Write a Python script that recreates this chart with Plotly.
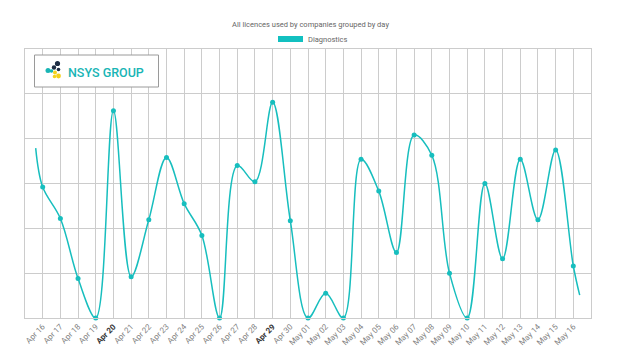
import plotly.graph_objects as go
import pandas as pd

# ---- data ----
dates = pd.date_range("2021-04-16", "2021-05-16", freq="D")
values = [29.2, 22.2, 8.8, 0, 46.2, 9.2, 21.9, 35.8, 25.5, 18.4, 0, 34.0, 30.4, 48.1, 21.7,
          0, 5.5, 0, 35.4, 28.3, 14.6, 40.8, 36.3, 10.0, 0, 30.0, 13.2, 35.4, 21.9, 37.5, 11.6]
lead_in_date, lead_in_value = pd.Timestamp("2021-04-15 14:30"), 37.9
lead_out_date, lead_out_value = pd.Timestamp("2021-05-16 08:40"), 5.1
bold_days = ["Apr 20", "Apr 29"]
series_name = "Diagnostics"
title_text = "All licences used by companies grouped by day"

tick_labels = [d.strftime("%b %d") for d in dates]
tick_text = [f'<span style="color:#333"><b>{t}</b></span>' if t in bold_days else t for t in tick_labels]

TEAL = "#17bebe"
GRID = "#cccccc"
W, H = 621, 358
L, R, T, B = 25, 30, 49, 40
PW, PH = W - L - R, H - T - B


def px(x):
    return (x - L) / PW


def py(y):
    return (H - B - y) / PH


line_x = [lead_in_date] + list(dates) + [lead_out_date]
line_y = [lead_in_value] + values + [lead_out_value]

fig = go.Figure()
fig.add_trace(go.Scatter(x=line_x, y=line_y, mode="lines",
                         line=dict(color=TEAL, width=1.5, shape="spline", smoothing=1.0),
                         showlegend=False, hoverinfo="skip"))
fig.add_trace(go.Scatter(x=dates, y=values, mode="markers", name=series_name,
                         marker=dict(color=TEAL, size=5), cliponaxis=False, showlegend=False))

shapes = []
# legend box
shapes.append(dict(type="rect", xref="paper", yref="paper", x0=px(278), x1=px(303), y0=py(42), y1=py(36),
                   fillcolor="#12c0c0", line=dict(width=0)))
# logo frame
shapes.append(dict(type="rect", xref="paper", yref="paper", x0=px(34.5), x1=px(158.5), y0=py(87), y1=py(55),
                   fillcolor="white", line=dict(color="#9a9a9a", width=1), layer="above"))
# logo icon circles
for cx, cy, r, col in [(57.5, 63.5, 2.6, "#1d2d44"), (54, 67.5, 2.2, "#1d2d44"), (48, 70.5, 2.5, "#19b5b5"),
                       (51.5, 71, 1.8, "#19b5b5"), (55, 72.5, 2.0, "#f5d21b"), (58.5, 76, 2.4, "#f5d21b"),
                       (54.5, 76.5, 1.8, "#f5d21b"), (58.5, 69.5, 1.8, "#1d2d44")]:
    shapes.append(dict(type="circle", xref="paper", yref="paper", x0=px(cx - r), x1=px(cx + r),
                       y0=py(cy + r), y1=py(cy - r), fillcolor=col, line=dict(width=0), layer="above"))

annotations = [
    dict(text=series_name, xref="paper", yref="paper", x=px(306), y=py(39.5), xanchor="left", yanchor="middle",
         showarrow=False, font=dict(family="Roboto", size=7.5, color="#666")),
    dict(text="NSYS GROUP", xref="paper", yref="paper", x=px(66), y=py(72.5), xanchor="left", yanchor="middle",
         showarrow=False, font=dict(family="Roboto", size=12.5, color="#19b5b5", weight=500)),
]

fig.update_layout(
    width=W, height=H,
    margin=dict(l=L, r=R, t=T, b=B, pad=0),
    paper_bgcolor="white", plot_bgcolor="white",
    title=dict(text=title_text, x=0.5, xanchor="center", y=1 - 24 / H, yanchor="middle",
               font=dict(family="Roboto", size=7.5, color="#666")),
    showlegend=False,
    shapes=shapes,
    annotations=annotations,
    font=dict(family="Roboto"),
)
fig.update_xaxes(range=[pd.Timestamp("2021-04-15"), pd.Timestamp("2021-05-17")],
                 tickmode="array", tickvals=dates, ticktext=tick_text, tickangle=-45,
                 tickfont=dict(family="Roboto", size=8, color="#808080"),
                 showgrid=True, gridcolor=GRID, gridwidth=1,
                 showline=True, linecolor=GRID, mirror=True, zeroline=False, ticks="")
fig.update_yaxes(range=[0, 60], dtick=10, showticklabels=False, showgrid=True, gridcolor=GRID,
                 showline=True, linecolor=GRID, mirror=True, zeroline=False, ticks="")

fig.write_html("out.html", config={"displayModeBar": False},
               post_script="document.body.style.margin='0';")
